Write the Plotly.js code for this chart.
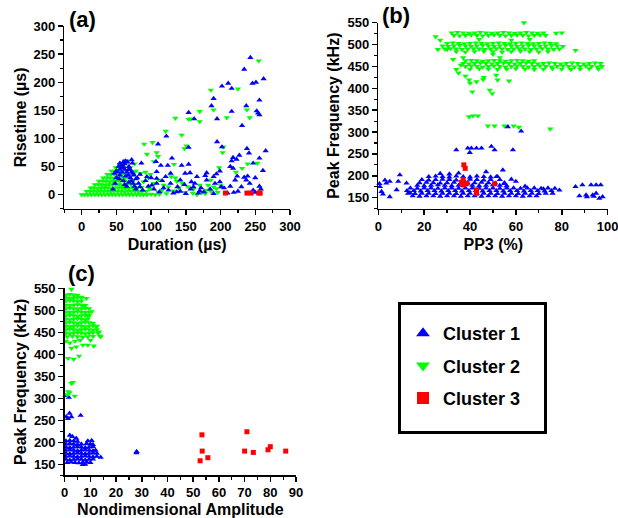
<!DOCTYPE html>
<html>
<head>
<meta charset="utf-8">
<script src="https://cdn.plot.ly/plotly-3.0.1.min.js"></script>
<style>html,body{margin:0;padding:0;background:#fff;}#chart{width:618px;height:518px;}</style>
</head>
<body>
<div id="chart"></div>
<script>
// ---------- Panel (a): Duration (µs) vs Risetime (µs) ----------
const aCluster1 = [[243,244],[234,223],[262,206],[202,193],[211,198],[246,198],[251,200],[216,189],[256,168],[190,171],[187,158],[237,158],[254,145],[256,142],[252,149],[216,148],[154,146],[162,135],[195,135],[231,123],[122,104],[195,94],[110,90],[202,85],[238,82],[265,78],[154,84],[241,74],[130,65],[218,66],[223,63],[227,70],[216,60],[214,50],[73,56],[72,62],[86,56],[107,59],[114,52],[124,52],[144,52],[154,54],[247,56],[256,65],[261,43],[199,42],[194,37],[180,39],[218,47],[234,31],[237,26],[239,33],[224,33],[221,26],[256,15],[256,2],[250,4],[219,4],[247,8],
[45,10],[48,20],[50,30],[52,40],[55,45],[57,52],[60,58],[62,55],[58,48],[62,45],[65,40],[67,35],[70,30],[72,25],[74,20],[76,15],[78,10],[80,30],[82,20],[55,35],[60,25],[65,15],[68,50],[70,45],[72,40],[50,42],[47,38],[53,50],[63,60],[66,58],[75,35],[78,28],[84,14],[88,8],[92,25],[96,15],[100,30],[104,10],[108,20],[112,5],[116,25],[118,12],[125,8],[128,20],[132,3],[138,14],[142,6],[148,18],[150,2],[157,10],[163,20],[168,3],[172,12],[178,34],[185,10],[190,2],[192,20],[205,12],[210,3],[225,6],[230,14],[242,20],[250,30],[258,10],[108,29],[101,17],[121,32],[128,38],[142,26],[156,39],[161,14],[176,5],[180,26],[190,32],[199,23],[201,14],[214,15],[137,5],[158,23],[170,7],[166,32],[149,38],[108,41],[94,32],[84,36],[74,38],[67,44],[60,50],[55,56],[58,40],[63,33],[68,22],[54,28],[62,18]];
const aCluster2 = [[0,0],[4,0],[9,0],[14,0],[19,0],[24,0],[29,0],[34,0],[39,0],[44,0],[49,0],[54,0],[59,0],[64,0],[69,0],[74,0],[79,0],[84,0],[89,0],[94,0],[100,1],[106,0],[112,1],
[7,6],[12,6],[17,6],[22,5],[27,6],[32,6],[37,6],[42,5],[47,6],[52,6],[57,6],[62,5],[67,6],[72,6],[77,6],[82,5],[87,6],[93,6],
[13,12],[18,12],[23,11],[28,12],[33,12],[38,12],[43,11],[48,12],[53,12],[58,12],[63,12],[68,11],[74,12],[80,12],[86,13],
[19,18],[24,18],[29,18],[34,17],[39,18],[44,18],[49,18],[54,18],[59,17],[65,18],[71,18],[77,19],
[25,24],[30,24],[35,24],[40,23],[45,24],[50,24],[55,24],[61,24],[67,23],[73,24],
[31,30],[36,30],[41,30],[46,29],[51,30],[57,30],[63,30],[69,31],
[37,36],[42,36],[47,36],[52,35],[58,36],[64,36],
[43,42],[48,42],[53,42],[59,41],[65,42],
[49,48],[54,48],[60,48],[55,54],[61,54],[62,60],
[255,238],[186,186],[225,188],[190,151],[238,151],[170,148],[242,137],[135,136],[154,134],[157,135],[170,130],[209,137],[121,113],[144,106],[90,90],[102,93],[94,72],[108,75],[110,68],[104,59],[148,82],[151,87],[133,54],[204,85],[203,75],[231,47],[222,40],[239,55],[253,56],[198,48],[186,26],[170,17],[161,10],[166,0],[196,4],[194,11],[153,14],[137,24],[129,32],[135,30],[118,17],[111,26],[99,36],[85,38],[89,23],[110,5],[122,2],[132,7],[149,4],[173,4],[179,8],[182,17],[190,14],[98,10],[104,20],[116,8],[125,14],[140,12],[145,20],[160,3],[178,2],[186,6],[200,16],[66,60],[70,48],[78,42],[92,40],[96,30],[76,55]];
const aCluster3 = [[207,3],[238,3],[244,3],[255,3],[257,3]];

// ---------- Panel (b): PP3 (%) vs Peak Frequency (kHz) ----------
const bCluster1 = [[14,172],[17,171],[20,172],[23,172],[26,171],[29,172],[32,172],[35,171],[38,172],[41,172],[44,171],[47,172],[50,172],[53,171],[56,172],[59,172],[62,171],[65,172],[68,172],[71,171],[74,172],[77,171],
[12.5,166],[15.5,166],[18.5,165],[21.5,166],[24.5,166],[27.5,165],[30.5,166],[33.5,166],[36.5,165],[39.5,166],[42.5,166],[45.5,165],[48.5,166],[51.5,166],[54.5,165],[57.5,166],[60.5,166],[63.5,165],[66.5,166],[69.5,166],[72.5,165],[75.5,166],[79,167],
[13,160],[16,159],[19,160],[22,160],[25,159],[28,160],[31,160],[34,159],[37,160],[40,160],[43,159],[46,160],[49,160],[52,159],[55,160],[58,160],[61,159],[64,160],[67,160],[70,159],[73,160],[76,160],
[15,154],[18,153],[21,154],[24,154],[27,153],[30,154],[33,154],[36,153],[39,154],[42,154],[45,153],[48,154],[51,154],[54,153],[57,154],[60,154],[63,153],[66,154],[69,154],
[22,198],[25,199],[28,198],[31,197],[34,199],[37,198],[40,197],[43,199],[46,198],[49,197],[52,198],
[19,191],[22,190],[25,191],[28,192],[31,191],[34,190],[37,191],[40,192],[43,191],[46,190],[49,191],[53,191],
[18,184],[21,185],[24,184],[27,183],[30,184],[33,185],[36,184],[39,183],[42,184],[45,185],[48,184],[51,183],[55,184],
[17,178],[20,177],[23,178],[26,179],[29,178],[32,177],[35,178],[38,179],[41,178],[44,177],[47,178],[50,179],[53,178],[56,177],
[0.7,175],[1.4,164],[2.9,190],[5,187],[8.7,187],[9.4,202],[8,168],[5,152],[12.3,183],[13.8,161],[0.5,182],[2,158],[3.5,183],[86,175],[89,179],[90.6,156],[93.5,156],[95,160],[97,179],[97.8,152],[96.4,148.5],[87.7,154],[92.8,179],[95,179],[94,153],[91,152],[34,259],[39,263],[40.6,263],[39.9,253],[42.8,263],[45,263],[49.3,267],[50.7,259],[58.7,259],[56.5,312],[62.3,302],[54.3,213],[51.5,198],[60,187],[58,192],[47,209],[31,204],[27,205],[35,206],[55,182],[64,176],[72,170]];
const bCluster2 = [[32,527],[34.5,528],[37,527],[39.5,526],[42,527],[44.5,528],[47,527],[49.5,526],[52,527],[54.5,528],[57,527],[59.5,526],[62,527],[64.5,528],[67,527],[69.5,526],[72,527],
[33,521],[35.5,520],[38,521],[40.5,522],[43,521],[45.5,520],[48,521],[50.5,522],[53,521],[55.5,520],[58,521],[60.5,522],[63,521],[65.5,520],[68,521],[70.5,522],[73,521],
[30,503],[32.5,504],[35,503],[37.5,502],[40,503],[42.5,504],[45,503],[47.5,502],[50,503],[52.5,504],[55,503],[57.5,502],[60,503],[62.5,504],[65,503],[67.5,502],[70,503],[72.5,504],[75,503],[77.5,502],
[28,497],[30.5,496],[33,497],[35.5,498],[38,497],[40.5,496],[43,497],[45.5,498],[48,497],[50.5,496],[53,497],[55.5,498],[58,497],[60.5,496],[63,497],[65.5,498],[68,497],[70.5,496],[73,497],[75.5,498],[78,497],[80.5,496],
[29,490],[31.5,491],[34,490],[36.5,489],[39,490],[41.5,491],[44,490],[46.5,489],[49,490],[51.5,491],[54,490],[56.5,489],[59,490],[61.5,491],[64,490],[66.5,489],[69,490],[71.5,491],[74,490],[76.5,489],[79,490],
[34,484],[38,483],[42,484],[46,485],[50,484],[54,483],[58,484],[62,485],[66,484],[70,483],[74,484],
[38,463],[40.5,464],[43,463],[45.5,462],[48,463],[50.5,464],[53,463],[55.5,462],[58,463],[60.5,464],[63,463],[65.5,462],[68,463],
[37,457],[39.5,456],[42,457],[44.5,458],[47,457],[49.5,456],[52,457],[54.5,458],[57,457],[59.5,456],[62,457],[64.5,458],[67,457],[69.5,456],[72,457],[74.5,458],[77,457],[79.5,456],[82,457],[84.5,458],[87,457],[89.5,456],[92,457],[94.5,458],[97,457],
[38,450],[40.5,451],[43,450],[45.5,449],[48,450],[50.5,451],[53,450],[55.5,449],[58,450],[60.5,451],[63,450],[65.5,449],[68,450],[70.5,451],[73,450],[75.5,449],[78,450],[80.5,451],[83,450],[85.5,449],[88,450],[90.5,451],[93,450],[95.5,449],[97.5,450],
[40,444],[44,445],[48,444],[52,443],[56,444],[60,445],[64,444],[68,443],[72,444],[76,445],[80,444],[84,443],[88,444],[92,445],[96,444],
[25,518],[27,510],[26,489],[30,489],[77.5,526],[80,527],[63.5,550],[86,487],[38,428],[39.6,419],[42.8,415],[45.7,420],[51.4,430],[52,419],[57,417],[41,392],[48.6,396],[49.7,388],[34,443],[32.6,466],[36,453],[35,435],[46,425],[40,412],[39.6,335],[41.3,337],[43.5,337],[47.8,314],[50.7,314],[55,314],[59,314],[61.3,311],[75,307],[58,510],[66,512],[44,512],[37,470],[53,470],[50,478]];
const bCluster3 = [[37.3,225],[37.9,217],[37,191],[36.3,185],[37.7,182],[38.7,183],[37,179],[42.8,168],[42.8,163],[42.8,160],[50.7,182]];

// ---------- Panel (c): Nondimensional Amplitude vs Peak Frequency (kHz) ----------
const cCluster1 = [[3,213],[4.5,209],[2,216],
[0.5,203],[2,204],[3.5,203],[5,202],[9,203],[10.5,204],
[0.5,196],[2,197],[3.5,196],[5,195],[6.5,196],[8.5,197],[10,196],[11,195],
[0.5,189],[2,188],[3.5,189],[5,190],[6.5,189],[8,188],[9.5,189],[11,190],
[0.5,182],[2,183],[3.5,182],[5,181],[6.5,182],[8,183],[9.5,182],[11,181],[12,182],
[0.5,175],[2,174],[3.5,175],[5,176],[6.5,175],[8,174],[9.5,175],[11,176],[12.5,175],
[0.5,168],[2,169],[3.5,168],[5,167],[6.5,168],[8,169],[9.5,168],[11,167],[12.5,168],
[0.5,161],[2,160],[3.5,161],[5,162],[6.5,161],[8,160],[9.5,161],[11,162],
[1,154],[2.5,155],[4,154],[5.5,153],[7,154],[8.5,155],[10,154],[7,149],[8,150],
[27.9,176],[28,179],[14,166],[6.2,261],[1.6,302],[0.6,258],[1.9,266],[1.3,254],[2.6,258],[0.3,306]];
const cCluster2 = [[0.5,535],[2,536],[3.5,535],[5,534],[6.5,530],
[0.5,528],[2,527],[3.5,528],[5,529],[6.5,528],[8.4,527],
[0.5,521],[2,522],[3.5,521],[5,520],[6.5,521],
[0.5,512],[2,511],[3.5,512],[5,513],[6.5,512],[8,511],
[0.5,504],[2,505],[3.5,504],[5,503],[6.5,504],[8,505],[9.5,504],
[0.5,496],[2,495],[3.5,496],[5,497],[6.5,496],[8,495],[9.5,496],[10.5,497],
[0.5,488],[2,489],[3.5,488],[5,487],[6.5,488],[8,489],[9.5,488],
[0.5,480],[2,479],[3.5,480],[5,481],[6.5,480],[8,479],[9,480],
[0.5,472],[2,473],[3.5,472],[5,471],[6.5,472],[8,473],[9.5,472],[11,471],
[0.5,464],[2,463],[3.5,464],[5,465],[6.5,464],[8,463],[9.5,464],[11,465],[12.5,464],
[0.5,456],[2,457],[3.5,456],[5,455],[6.5,456],[8,457],[9.5,456],[11,455],[12.5,456],
[0.5,448],[2,447],[3.5,448],[5,449],[6.5,448],[8,447],[9.5,448],[11,449],[13,448],
[1,440],[3,441],[5,440],[7,439],[9,440],[11,441],[14,440],
[2.6,548],[13.6,442],[13.4,451],[12.3,463],[7.1,421],[9,421],[11.3,419],[2.6,414],[4.5,417],[1.3,391],[3.5,389],[5.6,396],[2.6,334],[3.2,336],[1.3,315],[1.9,313],[3.9,305],[1,308],[0.5,430],[2,426],[4,430],[6,432],[10,432],[7.5,510],[9,488]];
const cCluster3 = [[53.4,217],[53.5,180],[52.7,158],[55.7,165],[70.9,224],[70,180],[73.4,177],[79.1,183],[80,190],[86,180]];

const clusterNames = ['Cluster 1', 'Cluster 2', 'Cluster 3'];
const clusterColors = ['#0000ff', '#00ff00', '#ff0000'];
const clusterSymbols = ['triangle-up', 'triangle-down', 'square'];
const panelLetters = ['(a)', '(b)', '(c)'];
const ticksA = [0, 50, 100, 150, 200, 250, 300];
const ticksPP3 = [0, 20, 40, 60, 80, 100];
const ticksFreq = [150, 200, 250, 300, 350, 400, 450, 500, 550];
const ticksAmp = [0, 10, 20, 30, 40, 50, 60, 70, 80, 90];

const FONT = 'Arial, "Liberation Sans", sans-serif';

function mk(pairs, k, xa, ya, legend) {
  return {
    type: 'scatter', mode: 'markers',
    x: pairs.map(p => p[0]), y: pairs.map(p => p[1]),
    xaxis: xa, yaxis: ya, cliponaxis: false,
    name: clusterNames[k],
    legendgroup: 'g' + k, legendrank: k + 1,
    showlegend: legend,
    marker: { symbol: clusterSymbols[k], color: clusterColors[k], size: k === 2 ? 5 : 5.5, line: { width: 0 } },
    hoverinfo: 'x+y'
  };
}

const traces = [
  mk(aCluster2, 1, 'x', 'y', false), mk(aCluster1, 0, 'x', 'y', false), mk(aCluster3, 2, 'x', 'y', false),
  mk(bCluster2, 1, 'x2', 'y2', false), mk(bCluster1, 0, 'x2', 'y2', false), mk(bCluster3, 2, 'x2', 'y2', false),
  mk(cCluster1, 0, 'x3', 'y3', true), mk(cCluster2, 1, 'x3', 'y3', true), mk(cCluster3, 2, 'x3', 'y3', true)
];

function minor(d) { return { ticks: 'outside', ticklen: 3, tickwidth: 1.2, tickcolor: '#000', dtick: d, tick0: 0, showgrid: false }; }
function ax(extra) {
  return Object.assign({
    showline: true, linecolor: '#000', linewidth: 1.5,
    ticks: 'outside', ticklen: 5, tickwidth: 1.5, tickcolor: '#000',
    showgrid: false, zeroline: false, automargin: false,
    ticklabeloverflow: 'allow',
    tickfont: { family: FONT, size: 13, weight: 'bold', color: '#000' }
  }, extra);
}
function ttl(t, s) { return { text: t, standoff: s, font: { family: FONT, size: 16, weight: 'bold', color: '#000' } }; }

const W = 618, H = 518;
const px = v => v / W, py = v => 1 - v / H;

const layout = {
  width: W, height: H,
  margin: { l: 0, r: 0, t: 0, b: 0 },
  paper_bgcolor: '#fff', plot_bgcolor: 'rgba(0,0,0,0)',
  font: { family: FONT, color: '#000' },
  xaxis: ax({ domain: [px(64.3), px(290)], range: [-25, 300], anchor: 'y', tickvals: ticksA, minor: minor(25), title: ttl('Duration (µs)', 6) }),
  yaxis: ax({ domain: [py(208.8), py(26)], range: [-25, 300], anchor: 'x', tickvals: ticksA, minor: minor(25), title: ttl('Risetime (µs)', 3) }),
  xaxis2: ax({ domain: [px(378.3), px(608.3)], range: [0, 100.3], anchor: 'y2', tickvals: ticksPP3, minor: minor(10), title: ttl('PP3 (%)', 6) }),
  yaxis2: ax({ domain: [py(208.6), py(22.7)], range: [125, 550], anchor: 'x2', tickvals: ticksFreq, minor: minor(25), title: ttl('Peak Frequency (kHz)', 4) }),
  xaxis3: ax({ domain: [px(64.7), px(296)], range: [0, 90], anchor: 'y3', tickvals: ticksAmp, minor: minor(5), title: ttl('Nondimensional Amplitude', 5) }),
  yaxis3: ax({ domain: [py(475.3), py(288.3)], range: [125, 550], anchor: 'x3', tickvals: ticksFreq, minor: minor(25), title: ttl('Peak Frequency (kHz)', 3) }),
  showlegend: true,
  legend: {
    x: px(403), y: py(315), xanchor: 'left', yanchor: 'top',
    bgcolor: 'rgba(0,0,0,0)', borderwidth: 0,
    font: { family: FONT, size: 18, weight: 'bold', color: '#000' },
    itemsizing: 'constant', tracegroupgap: 6, traceorder: 'grouped'
  },
  shapes: [
    { type: 'rect', xref: 'paper', yref: 'paper', x0: px(399.5), x1: px(545.5), y0: py(432.5), y1: py(303.5), line: { color: '#000', width: 3 }, fillcolor: 'rgba(0,0,0,0)' }
  ],
  annotations: [
    { text: panelLetters[0], xref: 'paper', yref: 'paper', x: px(67), y: py(19), xanchor: 'left', yanchor: 'middle', showarrow: false, font: { family: FONT, size: 22, weight: 'bold', color: '#000' } },
    { text: panelLetters[1], xref: 'paper', yref: 'paper', x: px(380), y: py(15), xanchor: 'left', yanchor: 'middle', showarrow: false, font: { family: FONT, size: 22, weight: 'bold', color: '#000' } },
    { text: panelLetters[2], xref: 'paper', yref: 'paper', x: px(66), y: py(273), xanchor: 'left', yanchor: 'middle', showarrow: false, font: { family: FONT, size: 22, weight: 'bold', color: '#000' } }
  ]
};

Plotly.newPlot('chart', traces, layout, { staticPlot: true, displayModeBar: false });
</script>
</body>
</html>
